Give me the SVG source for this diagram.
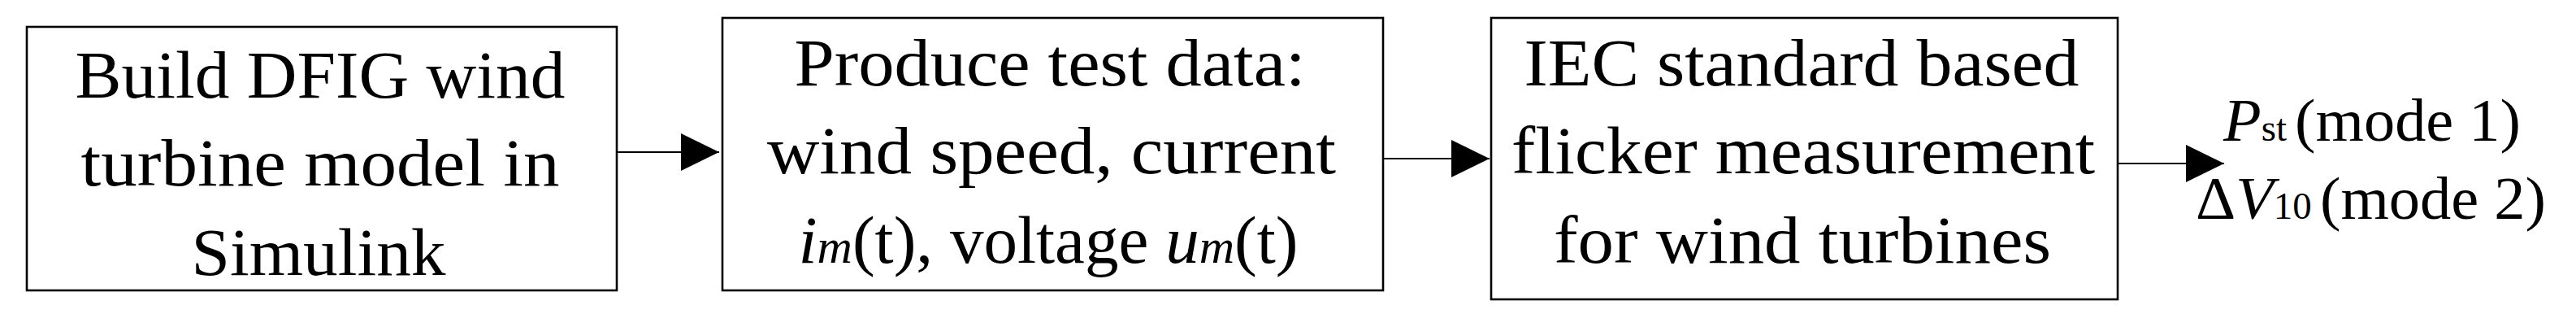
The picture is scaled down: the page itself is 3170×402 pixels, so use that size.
<svg xmlns="http://www.w3.org/2000/svg" width="3170" height="402" viewBox="0 0 3170 402">
  <style>
    .box { fill: #ffffff; stroke: #000000; stroke-width: 2.6; }
    .lbl { font-family: "Liberation Serif", "DejaVu Serif", serif; font-size: 83px; fill: #000000; text-anchor: middle; }
    .out { font-family: "Liberation Serif", "DejaVu Serif", serif; font-size: 75px; fill: #000000; }
    .it { font-style: italic; }
    .conn { stroke: #000000; stroke-width: 2.2; fill: none; }
  </style>
  <defs>
    <marker id="arrow" markerUnits="userSpaceOnUse" markerWidth="50" markerHeight="50" refX="47" refY="23" orient="auto">
      <path d="M0,0 L47,23 L0,46 Z" fill="#000000"/>
    </marker>
  </defs>
  <rect x="0" y="0" width="3170" height="402" fill="#ffffff"/>

  <g id="node1">
    <rect class="box" x="33" y="33" width="726" height="324"/>
    <text class="lbl" x="394" y="120" textLength="603" lengthAdjust="spacingAndGlyphs">Build DFIG wind</text>
    <text class="lbl" x="394" y="228" textLength="589" lengthAdjust="spacingAndGlyphs">turbine model in</text>
    <text class="lbl" x="392" y="338" textLength="313" lengthAdjust="spacingAndGlyphs">Simulink</text>
  </g>

  <g id="node2">
    <rect class="box" x="889" y="22" width="813" height="335"/>
    <text class="lbl" x="1292" y="105" textLength="629" lengthAdjust="spacingAndGlyphs">Produce test data:</text>
    <text class="lbl" x="1294" y="213" textLength="700" lengthAdjust="spacingAndGlyphs">wind speed, current</text>
    <text class="lbl" x="1290" y="323" textLength="615" lengthAdjust="spacingAndGlyphs"><tspan class="it">i</tspan><tspan class="it" font-size="60">m</tspan>(t), voltage <tspan class="it">u</tspan><tspan class="it" font-size="60">m</tspan>(t)</text>
  </g>

  <g id="node3">
    <rect class="box" x="1835" y="22" width="771" height="346"/>
    <text class="lbl" x="2217" y="105" textLength="683" lengthAdjust="spacingAndGlyphs">IEC standard based</text>
    <text class="lbl" x="2219" y="213" textLength="718" lengthAdjust="spacingAndGlyphs">flicker measurement</text>
    <text class="lbl" x="2218" y="323" textLength="612" lengthAdjust="spacingAndGlyphs">for wind turbines</text>
  </g>

  <g id="output">
    <text class="out" x="2736" y="173" textLength="366" lengthAdjust="spacingAndGlyphs"><tspan class="it">P</tspan><tspan font-size="46">st</tspan><tspan dx="10">(mode 1)</tspan></text>
    <text class="out" x="2702" y="269" textLength="431" lengthAdjust="spacingAndGlyphs">Δ<tspan class="it">V</tspan><tspan font-size="46">10</tspan><tspan dx="10">(mode 2)</tspan></text>
  </g>

  <g id="connectors">
    <line class="conn" x1="759" y1="187" x2="885" y2="187" marker-end="url(#arrow)"/>
    <line class="conn" x1="1702" y1="195" x2="1833" y2="195" marker-end="url(#arrow)"/>
    <line class="conn" x1="2606" y1="201" x2="2737" y2="201" marker-end="url(#arrow)"/>
  </g>
</svg>
